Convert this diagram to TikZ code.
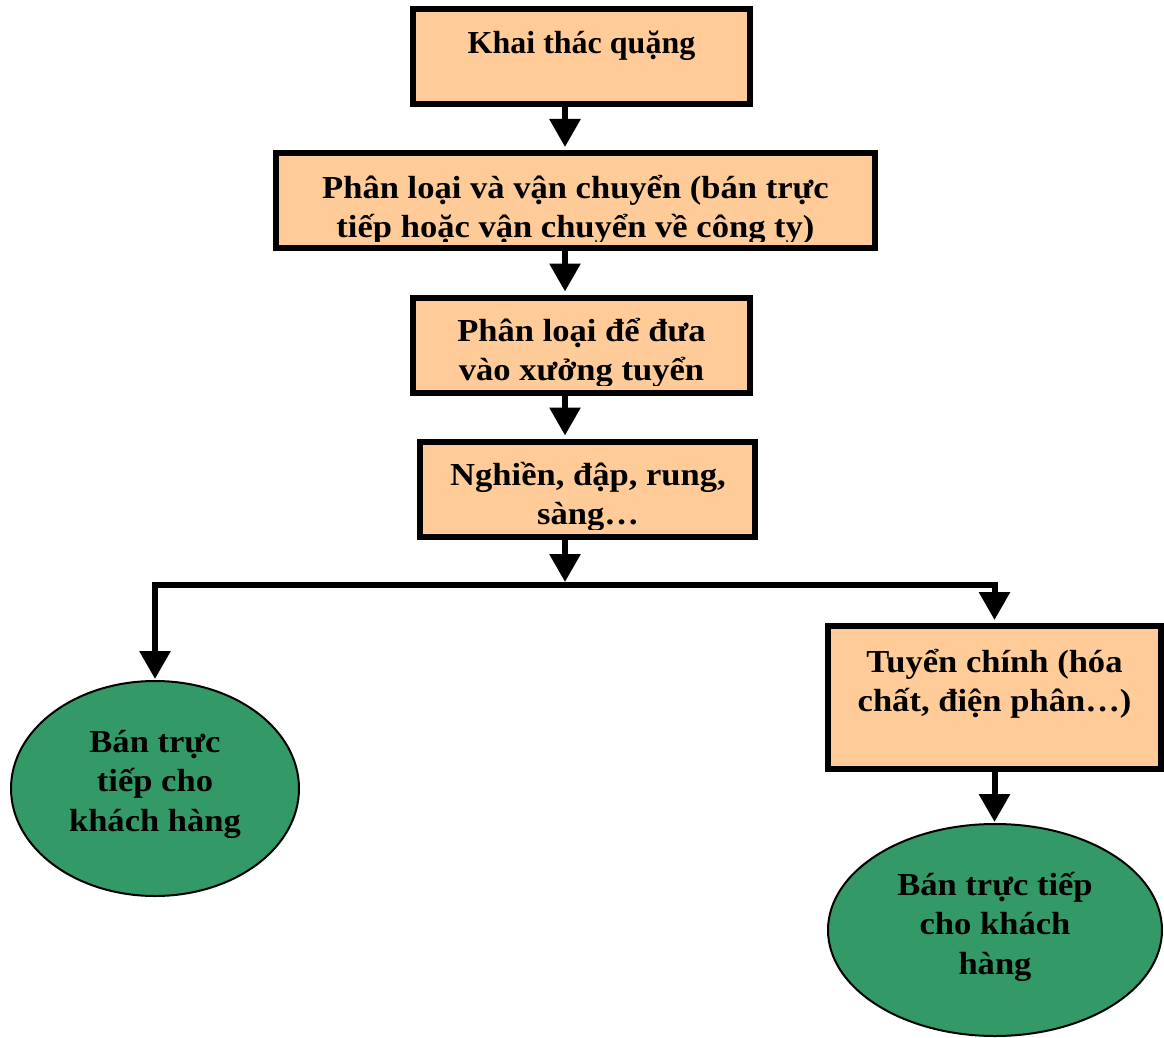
\documentclass[tikz,border=0pt]{standalone}
\usepackage{fontspec}
\setmainfont{Liberation Serif}
\newfontfamily\widefont[FakeStretch=1.08]{Liberation Serif}
\usetikzlibrary{arrows.meta,shapes.geometric,calc}
\definecolor{peach}{HTML}{FFCC99}
\definecolor{seagreen}{HTML}{339966}
\tikzset{
  box/.style={draw=black, fill=peach, line width=6pt, rectangle, inner sep=0pt},
  oval/.style={draw=black, fill=seagreen, line width=2pt, ellipse, inner sep=0pt},
  lbl/.style={font=\widefont\fontsize{32}{39.5}\selectfont\bfseries, align=center, inner sep=0pt, anchor=north},
  lblnarrow/.style={lbl, font=\fontsize{32}{39.5}\selectfont\bfseries},
  arr/.style={line width=6pt, -{Triangle[width=30pt,length=28pt]}, line join=miter},
}
\newcommand{\topstrut}{\rule{0pt}{34pt}}
\begin{document}
\begin{tikzpicture}[x=1pt,y=-1pt]
\useasboundingbox (0,0) rectangle (1164,1038);

% boxes
\node[box, minimum width=337pt, minimum height=95pt] (b1) at (581.5,57) {};
\node[box, minimum width=599pt, minimum height=95pt] (b2) at (575.5,200.5) {};
\node[box, minimum width=337pt, minimum height=95pt] (b3) at (581.5,345) {};
\node[box, minimum width=335pt, minimum height=95pt] (b4) at (587.5,489) {};
\node[box, minimum width=333pt, minimum height=143pt] (b5) at (994.5,697.5) {};

% ellipses
\node[oval, minimum width=288pt, minimum height=215pt] (e1) at (155,788.5) {};
\node[oval, minimum width=334pt, minimum height=212pt] (e2) at (995,930) {};

% texts (clipped to the box interiors)
\begin{scope}
  \clip ([shift={(3,3)}]b1.north west) rectangle ([shift={(-3,-6)}]b1.south east);
  \node[lblnarrow] (t1) at (581.5,19) {\topstrut Khai thác quặng};
\end{scope}
\begin{scope}
  \clip ([shift={(3,3)}]b2.north west) rectangle ([shift={(-3,-10)}]b2.south east);
  \node[lbl] (t2) at (575.5,164) {\topstrut Phân loại và vận chuyển (bán trực\\tiếp hoặc vận chuyển về công ty)};
\end{scope}
\begin{scope}
  \clip ([shift={(3,3)}]b3.north west) rectangle ([shift={(-3,-10)}]b3.south east);
  \node[lbl] (t3) at (581.5,307) {\topstrut Phân loại để đưa\\vào xưởng tuyển};
\end{scope}
\begin{scope}
  \clip ([shift={(3,3)}]b4.north west) rectangle ([shift={(-3,-10)}]b4.south east);
  \node[lbl] (t4) at (588,451) {\topstrut Nghiền, đập, rung,\\sàng…};
\end{scope}
\node[lbl] (t5) at (994.5,638) {\topstrut Tuyển chính (hóa\\chất, điện phân…)};
\node[lbl] (t6) at (155,718) {\topstrut Bán trực\\tiếp cho\\khách hàng};
\node[lbl] (t7) at (995,861) {\topstrut Bán trực tiếp\\cho khách\\hàng};

% connectors
\coordinate (col) at (565,0);
\coordinate (j) at (565,585);
\draw[arr, shorten >=3pt] (b1.south -| col) -- (b2.north -| col);
\draw[arr, shorten >=3pt] (b2.south -| col) -- (b3.north -| col);
\draw[arr, shorten >=3pt] (b3.south -| col) -- (b4.north -| col);
\draw[arr, shorten >=3pt] (b4.south -| col) -- (j);
\draw[arr, shorten >=1pt] (j) -| (e1.north);
\draw[arr, shorten >=3pt] (j) -| (b5.north);
\draw[arr, shorten >=1pt] (b5.south) -- (b5.south |- e2.north);
\end{tikzpicture}
\end{document}
